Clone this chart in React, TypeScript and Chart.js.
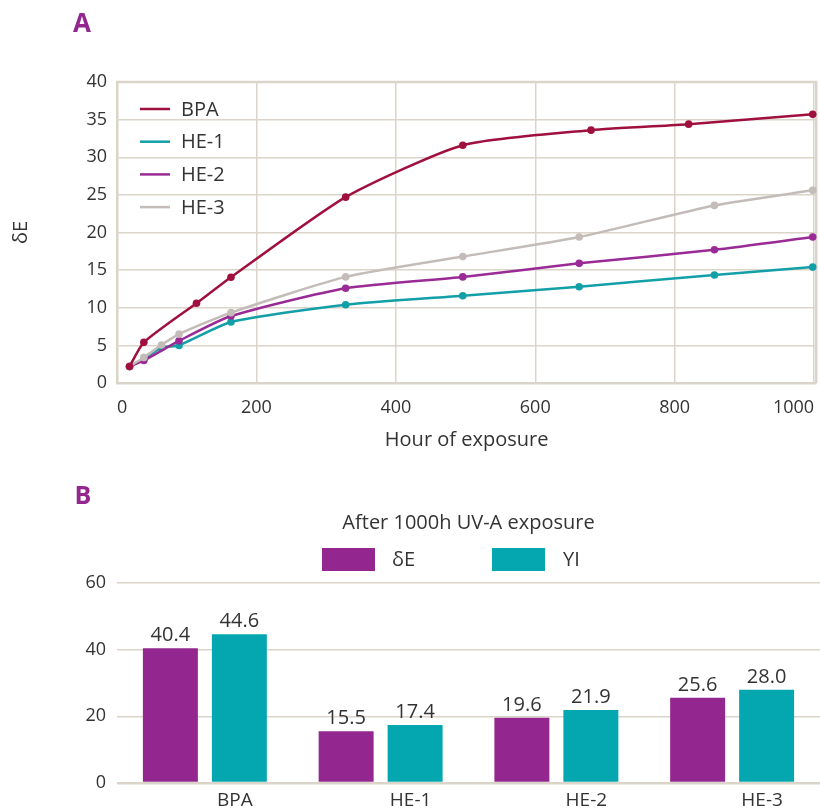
import { useEffect, useRef } from "react";
import { Chart, registerables } from "chart.js";

Chart.register(...registerables);

// ---------- Panel A data ----------
const seriesNames = ["BPA", "HE-1", "HE-2", "HE-3"];
const bpaHours = [18, 38.5, 114, 163.5, 328, 496, 680, 820, 998];
const bpaValues = [2.2, 5.4, 10.6, 14.05, 24.7, 31.6, 33.6, 34.4, 35.7];
const he1Hours = [18, 38.5, 63.7, 89, 163.5, 328, 496, 663, 857, 998];
const he1Values = [2.2, 3.2, 4.7, 5.0, 8.1, 10.4, 11.6, 12.8, 14.35, 15.4];
const he2Hours = [18, 38.5, 89, 163.5, 328, 496, 663, 857, 998];
const he2Values = [2.2, 3.0, 5.6, 8.9, 12.6, 14.1, 15.9, 17.7, 19.4];
const he3Hours = [18, 38.5, 63.7, 89, 163.5, 328, 496, 663, 857, 998];
const he3Values = [2.2, 3.4, 5.05, 6.5, 9.35, 14.1, 16.8, 19.4, 23.6, 25.6];
const xTickValues = [0, 200, 400, 600, 800, 1000];
const yTickStepA = 5;

// ---------- Panel B data ----------
const barGroups = ["BPA", "HE-1", "HE-2", "HE-3"];
const deltaE = [40.4, 15.5, 19.6, 25.6];
const yellowIndex = [44.6, 17.4, 21.9, 28.0];
const barSeriesNames = ["δE", "YI"];
const yTickStepB = 20;

const FONT = "'Open Sans', 'Noto Sans', sans-serif";
const TEXT = "#333333";
const GRID = "#dbd4c9";
const LINE_COLORS = ["#a0103f", "#139fa7", "#9a2a95", "#c3bcb8"];
const BAR_COLORS = ["#93278f", "#04a7b0"];
const LETTER = "#93278f";

const hoursList = [bpaHours, he1Hours, he2Hours, he3Hours];
const valuesList = [bpaValues, he1Values, he2Values, he3Values];

export default function App() {
  const refA = useRef<HTMLCanvasElement | null>(null);
  const refB = useRef<HTMLCanvasElement | null>(null);

  useEffect(() => {
    Chart.defaults.font.family = FONT;
    Chart.defaults.color = TEXT;

    const panelAPlugin = {
      id: "panelA",
      beforeDatasetsDraw(chart: any) {
        const { ctx, chartArea } = chart;
        ctx.save();
        ctx.strokeStyle = GRID;
        ctx.lineWidth = 2.5;
        ctx.beginPath();
        ctx.moveTo(chartArea.left, chartArea.top);
        ctx.lineTo(chartArea.right, chartArea.top);
        ctx.lineTo(chartArea.right, chartArea.bottom);
        ctx.stroke();
        ctx.restore();
      },
      afterDraw(chart: any) {
        const { ctx, chartArea } = chart;
        ctx.save();
        ctx.fillStyle = LETTER;
        ctx.font = `bold 26px ${FONT}`;
        ctx.textAlign = "center";
        ctx.textBaseline = "middle";
        ctx.fillText("A", 82, 25);
        // legend inside chart area
        const ds = chart.data.datasets;
        const x0 = chartArea.left + 23;
        const y0 = chartArea.top + 27;
        const gap = 32.7;
        ctx.font = `20px ${FONT}`;
        ctx.textAlign = "left";
        ds.forEach((d: any, i: number) => {
          const y = y0 + i * gap;
          ctx.strokeStyle = d.borderColor;
          ctx.lineWidth = 2.5;
          ctx.beginPath();
          ctx.moveTo(x0, y);
          ctx.lineTo(x0 + 30, y);
          ctx.stroke();
          ctx.fillStyle = TEXT;
          ctx.fillText(d.label, x0 + 41, y + 1);
        });
        ctx.restore();
      },
    };

    const chartA = new Chart(refA.current as HTMLCanvasElement, {
      type: "line",
      data: {
        datasets: seriesNames.map((name, i) => ({
          label: name,
          data: hoursList[i].map((h, j) => ({ x: h, y: valuesList[i][j] })),
          borderColor: LINE_COLORS[i],
          backgroundColor: LINE_COLORS[i],
          pointBackgroundColor: LINE_COLORS[i],
          pointBorderWidth: 0,
          pointRadius: 3.8,
          pointHoverRadius: 3.8,
          borderWidth: 2.5,
          tension: 0.2,
          clip: false as any,
          order: i === 0 ? 0 : 4 - i,
        })),
      },
      options: {
        animation: false,
        responsive: false,
        maintainAspectRatio: false,
        events: [],
        layout: { padding: { top: 82, right: 1, left: 0, bottom: 0 } },
        plugins: { legend: { display: false }, tooltip: { enabled: false } },
        scales: {
          x: {
            type: "linear",
            min: 0,
            max: 1003,
            afterBuildTicks: (s: any) => {
              s.ticks = xTickValues.map((v) => ({ value: v }));
            },
            ticks: {
              align: "inner",
              padding: 14,
              color: TEXT,
              font: { size: 18, family: FONT },
              callback: (v: any) => String(v),
            },
            grid: { color: GRID, lineWidth: 1.5, drawTicks: false },
            border: { color: GRID, width: 2.5 },
            title: {
              display: true,
              text: "Hour of exposure",
              color: TEXT,
              font: { size: 20, family: FONT },
              padding: { top: 0, bottom: 18 },
            },
            afterFit: (s: any) => {
              s.height = 87;
              s.paddingLeft = 0;
              s.paddingRight = 0;
            },
          },
          y: {
            min: 0,
            max: 40,
            ticks: {
              stepSize: yTickStepA,
              padding: 10,
              color: TEXT,
              font: { size: 18, family: FONT },
            },
            grid: { color: GRID, lineWidth: 1.5, drawTicks: false },
            border: { color: GRID, width: 2.5 },
            title: {
              display: true,
              text: "δE",
              color: TEXT,
              font: { size: 20, family: FONT },
              padding: { top: 9, bottom: 0 },
            },
            afterFit: (s: any) => {
              s.width = 117;
            },
          },
        },
      },
      plugins: [panelAPlugin],
    } as any);

    const panelBPlugin = {
      id: "panelB",
      afterDraw(chart: any) {
        const { ctx, chartArea } = chart;
        ctx.save();
        ctx.fillStyle = LETTER;
        ctx.font = `bold 25px ${FONT}`;
        ctx.textAlign = "center";
        ctx.textBaseline = "middle";
        ctx.fillText("B", 83, 27);
        ctx.fillStyle = TEXT;
        ctx.font = `20px ${FONT}`;
        ctx.fillText("After 1000h UV-A exposure", (chartArea.left + chartArea.right) / 2, 53);
        // legend
        const items = [
          { x: 322, tx: 392 },
          { x: 492, tx: 563 },
        ];
        chart.data.datasets.forEach((d: any, i: number) => {
          ctx.fillStyle = d.backgroundColor;
          ctx.fillRect(items[i].x, 78, 53, 23);
          ctx.fillStyle = TEXT;
          ctx.textAlign = "left";
          ctx.fillText(d.label, items[i].tx, 90);
        });
        // value labels
        ctx.textAlign = "center";
        ctx.textBaseline = "alphabetic";
        ctx.font = `20px ${FONT}`;
        chart.data.datasets.forEach((d: any, i: number) => {
          const meta = chart.getDatasetMeta(i);
          meta.data.forEach((bar: any, j: number) => {
            ctx.fillText(Number(d.data[j]).toFixed(1), bar.x, bar.y - 7);
          });
        });
        ctx.restore();
      },
    };

    const chartB = new Chart(refB.current as HTMLCanvasElement, {
      type: "bar",
      data: {
        labels: barGroups,
        datasets: [
          {
            label: barSeriesNames[0],
            data: deltaE,
            backgroundColor: BAR_COLORS[0],
            categoryPercentage: 0.785,
            barPercentage: 0.797,
          },
          {
            label: barSeriesNames[1],
            data: yellowIndex,
            backgroundColor: BAR_COLORS[1],
            categoryPercentage: 0.785,
            barPercentage: 0.797,
          },
        ],
      },
      options: {
        animation: false,
        responsive: false,
        maintainAspectRatio: false,
        events: [],
        layout: { padding: { top: 113, right: 0, left: 0, bottom: 0 } },
        plugins: { legend: { display: false }, tooltip: { enabled: false } },
        scales: {
          x: {
            grid: { display: false, drawTicks: false },
            border: { display: false },
            ticks: {
              labelOffset: 30,
              padding: 6,
              color: TEXT,
              font: { size: 19, family: FONT },
            },
            afterFit: (s: any) => {
              s.height = 28;
            },
          },
          y: {
            min: 0,
            max: 60,
            ticks: {
              stepSize: yTickStepB,
              padding: 11,
              color: TEXT,
              font: { size: 18, family: FONT },
            },
            grid: {
              color: GRID,
              lineWidth: (c: any) => (c.tick && c.tick.value === 0 ? 2.5 : 1.5),
              drawTicks: false,
            },
            border: { display: false },
            afterFit: (s: any) => {
              s.width = 117;
            },
          },
        },
      },
      plugins: [panelBPlugin],
    } as any);

    return () => {
      chartA.destroy();
      chartB.destroy();
    };
  }, []);

  return (
    <div style={{ position: "absolute", left: 0, top: 0, width: 820, height: 811, background: "#fff" }}>
      <canvas ref={refA} width={820} height={470} style={{ display: "block", width: 820, height: 470 }} />
      <canvas ref={refB} width={820} height={341} style={{ display: "block", width: 820, height: 341 }} />
    </div>
  );
}
